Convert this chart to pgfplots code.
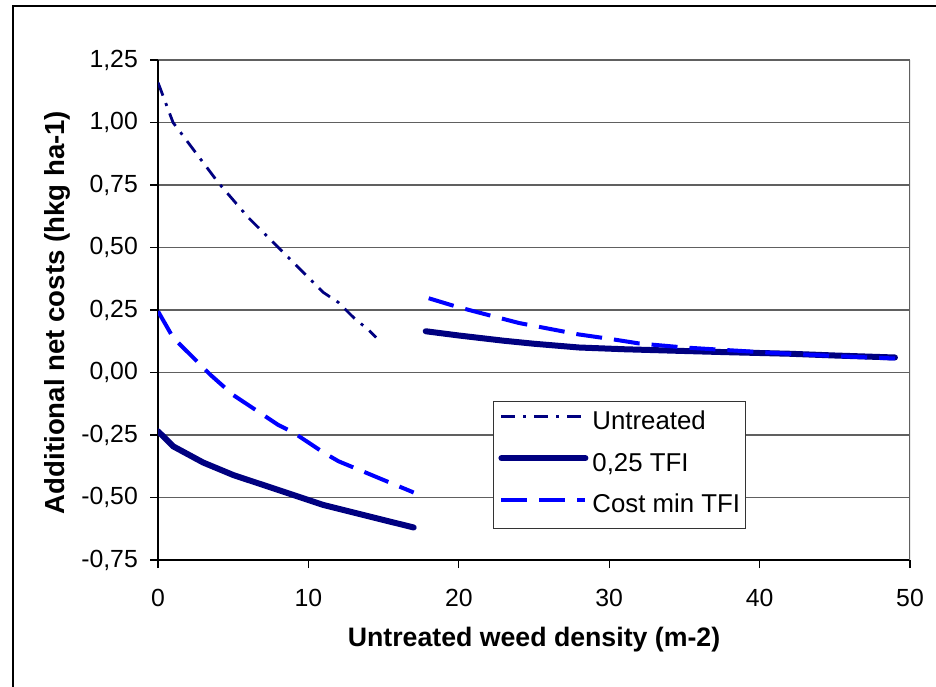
\documentclass[border=0pt]{standalone}
\usepackage{fontspec}
\setmainfont{Liberation Sans}
\usepackage{pgfplots}
\pgfplotsset{compat=1.18}

\definecolor{navy}{RGB}{0,0,128}
\definecolor{xlblue}{RGB}{0,0,255}
\definecolor{gridgray}{RGB}{96,96,96}
\newcommand{\tickfont}{\fontsize{24.8}{29}\selectfont}
\newcommand{\legfont}{\fontsize{25.8}{30}\selectfont}

\begin{document}
\begin{tikzpicture}
\useasboundingbox (0pt,0pt) rectangle (936pt,686pt);
\draw[line width=2pt] (13pt,-20pt) rectangle (960pt,680pt);
\begin{axis}[
  at={(158pt,126pt)}, anchor=south west,
  scale only axis, width=752pt, height=500pt,
  xmin=0, xmax=50, ymin=-0.75, ymax=1.25,
  xtick={0,10,20,30,40,50},
  ytick={-0.75,-0.5,-0.25,0,0.25,0.5,0.75,1,1.25},
  /pgf/number format/assume math mode=true,
  ticklabel style={font=\tickfont, inner sep=0pt},
  xticklabel style={yshift=-21pt},
  yticklabel style={xshift=-12pt, /pgf/number format/.cd, fixed, fixed zerofill, precision=2, use comma},
  axis x line*=bottom, axis y line*=left,
  axis line style={-, black, line width=1.2pt},
  tick align=outside, major tick length=8pt,
  tick style={black, line width=1.2pt},
  ymajorgrids, major grid style={gridgray, line width=1.2pt},
  xlabel={Untreated weed density (m-2)},
  ylabel={Additional net costs (hkg ha-1)},
  xlabel style={font=\fontsize{26.7}{31}\selectfont\bfseries, at={(axis description cs:0.5,-0.16)}, anchor=center},
  ylabel style={font=\fontsize{27.6}{32}\selectfont\bfseries, at={(axis description cs:-0.1343,0.495)}, anchor=center},
  unbounded coords=jump,
  legend style={at={(axis description cs:0.4455,0.318)}, anchor=north west,
    draw=black!80, line width=0.8pt, fill=white, font=\legfont,
    inner xsep=5pt, inner ysep=10pt, row sep=18pt,
    nodes={inner sep=0pt, text height=18.5pt, text depth=5pt},
    /tikz/every odd column/.append style={column sep=4pt}},
  legend cell align=left,
  legend image code/.code={\draw[#1] (0pt,6.5pt) -- (84pt,6.5pt);},
]

% Untreated
\addplot[navy, line width=2.8pt, dash pattern=on 14pt off 8pt on 3pt off 8pt] coordinates {
(0,1.16) (1,1.00) (2,0.92) (3,0.84) (4,0.76) (5,0.69) (6,0.62) (7,0.56)
(8,0.50) (9,0.44) (10,0.38) (11,0.32) (12,0.28) (13,0.22) (14,0.17) (14.5,0.14)
};
\addlegendentry{Untreated}

% 0,25 TFI
\addplot[navy, line width=6pt, line cap=round, line join=round] coordinates {
(0,-0.235) (1,-0.295) (3,-0.36) (5,-0.41) (7,-0.45) (9,-0.49) (11,-0.53)
(13,-0.56) (15,-0.59) (17,-0.62)
(17.4,nan)
(17.8,0.165) (20,0.148) (23,0.127) (25,0.115) (28,0.10) (31,0.093) (35,0.086)
(38,0.081) (42,0.075) (45,0.068) (49,0.06)
};
\addlegendentry{0,25 TFI}

% Cost min TFI
\addplot[xlblue, line width=4pt, dash pattern=on 26pt off 12pt] coordinates {
(0,0.245) (1,0.14) (3.5,-0.01) (5,-0.09) (8,-0.21) (9,-0.24) (10,-0.28)
(11,-0.32) (12,-0.355) (13,-0.38) (15,-0.43) (17,-0.48)
(17.5,nan)
(18,0.297) (19.7,0.266) (21,0.245) (24,0.198) (26,0.175) (28,0.152) (30,0.135)
(32,0.116) (35,0.10) (38,0.089) (41,0.078) (45,0.066) (49,0.056)
};
\addlegendentry{Cost min TFI}

\draw[gridgray, line width=1.2pt] (rel axis cs:1,0) -- (rel axis cs:1,1);
\end{axis}
\end{tikzpicture}
\end{document}
